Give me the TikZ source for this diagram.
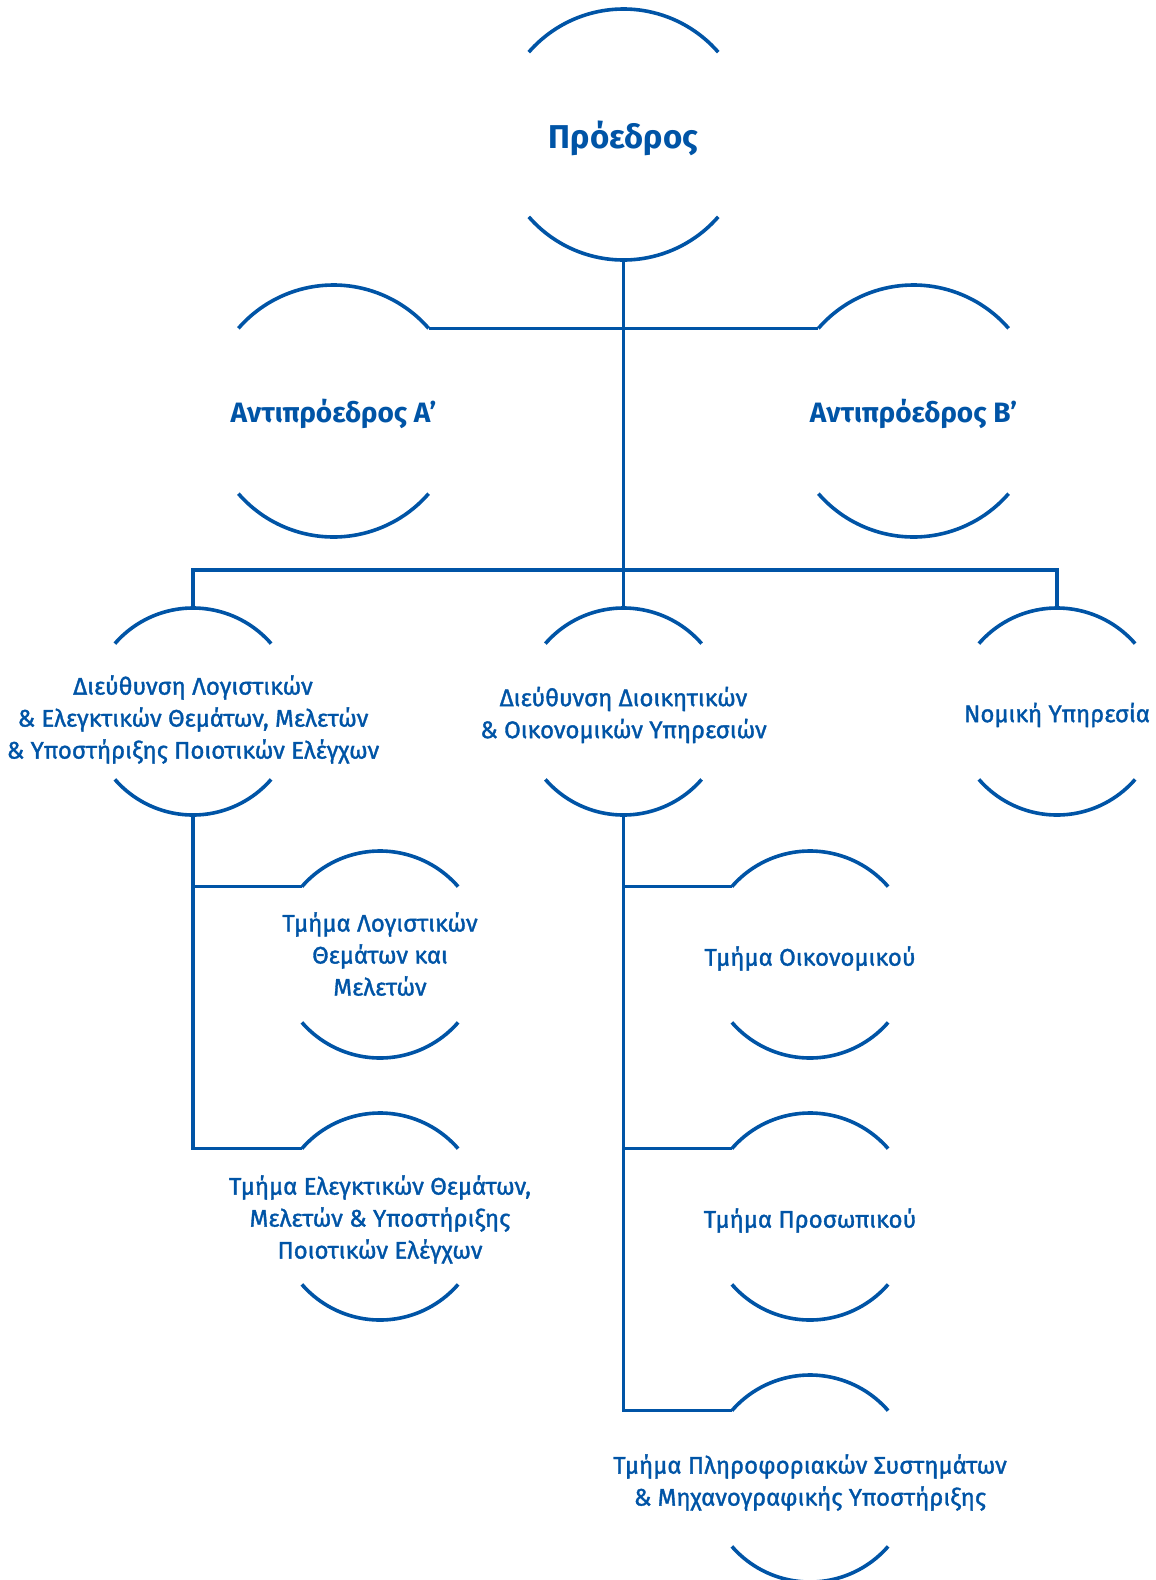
\documentclass[tikz,border=0pt]{standalone}
\usepackage{fontspec}
\setmainfont{Fira Sans}
\newfontfamily\medfont{Fira Sans}[FakeBold=1.4]
\definecolor{orgblue}{RGB}{0,84,166}
\newcommand\halfrings[2]{%
  \draw[wire] (#1.139) arc[start angle=139,end angle=41,radius=#2];
  \draw[wire] (#1.221) arc[start angle=221,end angle=319,radius=#2];}
\tikzset{
  ring/.style={circle, minimum size=#1, inner sep=0pt, outer sep=0pt},
  wire/.style={draw=orgblue, line width=3.6pt},
  lbl/.style={text=orgblue, align=center, inner sep=0pt, font=\medfont\fontsize{24}{32}\selectfont},
  ttl/.style={text=orgblue, align=center, inner sep=0pt, font=\bfseries\fontsize{33}{38}\selectfont},
  sttl/.style={text=orgblue, align=center, inner sep=0pt, font=\bfseries\fontsize{28}{32}\selectfont},
}
\begin{document}
\begin{tikzpicture}[x=1pt,y=1pt]
\useasboundingbox (0,0) rectangle (1156,-1580);
% circles (shape only)
\node[ring=251] (pres) at (623.5,-134.5) {};
\node[ring=252] (vA) at (333.5,-411) {};
\node[ring=252] (vB) at (913.5,-411) {};
\node[ring=207] (dirL) at (193,-711.5) {};
\node[ring=207] (dirM) at (623.5,-711.5) {};
\node[ring=207] (dirR) at (1057,-711.5) {};
\node[ring=207] (t1) at (380,-954.5) {};
\node[ring=207] (t2) at (380,-1216.5) {};
\node[ring=207] (s1) at (810,-954.5) {};
\node[ring=207] (s2) at (810,-1216.5) {};
\node[ring=207] (s3) at (810,-1478.5) {};
\halfrings{pres}{125.5}
\halfrings{vA}{126}
\halfrings{vB}{126}
\halfrings{dirL}{103.5}
\halfrings{dirM}{103.5}
\halfrings{dirR}{103.5}
\halfrings{t1}{103.5}
\halfrings{t2}{103.5}
\halfrings{s1}{103.5}
\halfrings{s2}{103.5}
\halfrings{s3}{103.5}
% connectors
\coordinate (bus) at (623.5,-570);
\draw[wire] (pres.south) -- (dirM.north);
\draw[wire] (vA.41) -- (vB.139);
\draw[wire] (dirL.north) |- (bus) -| (dirR.north);
\draw[wire] (dirL.south) |- (t1.139);
\draw[wire] (dirL.south) |- (t2.139);
\draw[wire] (dirM.south) |- (s1.139);
\draw[wire] (dirM.south) |- (s2.139);
\draw[wire] (dirM.south) |- (s3.139);
% labels
\node[ttl] (presT) at ([yshift=-3.5]pres) {Πρόεδρος};
\node[sttl] (vAT) at ([yshift=-3]vA) {Αντιπρόεδρος Α’};
\node[sttl] (vBT) at ([yshift=-3]vB) {Αντιπρόεδρος Β’};
\node[lbl] (dirLT) at ([yshift=-8]dirL) {Διεύθυνση Λογιστικών\\\& Ελεγκτικών Θεμάτων, Μελετών\\\& Υποστήριξης Ποιοτικών Ελέγχων};
\node[lbl] (dirMT) at ([yshift=-3.5]dirM) {Διεύθυνση Διοικητικών\\\& Οικονομικών Υπηρεσιών};
\node[lbl] (dirRT) at ([yshift=-3.5]dirR) {Νομική Υπηρεσία};
\node[lbl] (t1T) at ([yshift=0.5]t1) {Τμήμα Λογιστικών\\Θεμάτων και\\Μελετών};
\node[lbl] (t2T) at ([yshift=-3]t2) {Τμήμα Ελεγκτικών Θεμάτων,\\Μελετών \& Υποστήριξης\\Ποιοτικών Ελέγχων};
\node[lbl] (s1T) at ([yshift=-4]s1) {Τμήμα Οικονομικού};
\node[lbl] (s2T) at ([yshift=-4]s2) {Τμήμα Προσωπικού};
\node[lbl] (s3T) at ([yshift=-4]s3) {Τμήμα Πληροφοριακών Συστημάτων\\\& Μηχανογραφικής Υποστήριξης};
\end{tikzpicture}
\end{document}
